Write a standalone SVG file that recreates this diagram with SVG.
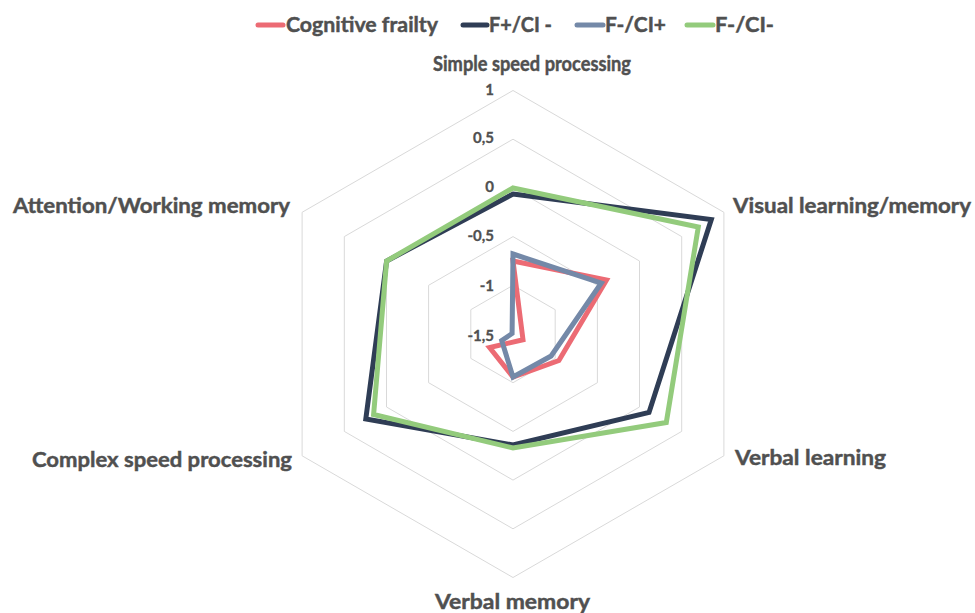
<svg xmlns="http://www.w3.org/2000/svg" width="975" height="613" viewBox="0 0 975 613">
<style>
.bg{fill:#fff}
.grid{fill:none;stroke:#d9d9d9;stroke-width:1}
.ser{fill:none;stroke-width:5;stroke-linejoin:miter;stroke-miterlimit:10}
.leg{stroke-width:5;stroke-linecap:round}
.cat{font-family:Lato,"Open Sans","DejaVu Sans",sans-serif;font-weight:bold;font-size:21px;fill:#505050;stroke:#505050;stroke-width:0.45}
.val{font-family:Lato,"Open Sans","DejaVu Sans",sans-serif;font-weight:bold;font-size:15px;fill:#505050;stroke:#505050;stroke-width:0.3;text-anchor:end}
.red{stroke:#ec6b74}
.navy{stroke:#2f3d55}
.blue{stroke:#7489a8}
.green{stroke:#93cb7c}
</style>
<rect class="bg" x="0" y="0" width="975" height="613"/>
<g id="grid">
<polygon class="grid" points="513,285.3 555.2,309.7 555.2,358.4 513,382.7 470.8,358.4 470.8,309.7"/>
<polygon class="grid" points="513,236.6 597.4,285.3 597.4,382.7 513,431.4 428.6,382.7 428.6,285.3"/>
<polygon class="grid" points="513,187.9 639.5,261 639.5,407 513,480.1 386.5,407 386.5,261"/>
<polygon class="grid" points="513,139.2 681.7,236.6 681.7,431.4 513,528.8 344.3,431.4 344.3,236.6"/>
<polygon class="grid" points="513,90.5 723.9,212.3 723.9,455.8 513,577.5 302.1,455.8 302.1,212.3"/>
</g>
<g id="value-labels">
<text class="val" x="494" y="95">1</text>
<text class="val" x="494" y="143">0,5</text>
<text class="val" x="494" y="192">0</text>
<text class="val" x="494" y="241">-0,5</text>
<text class="val" x="494" y="291">-1</text>
<text class="val" x="494" y="341">-1,5</text>
</g>
<g id="series">
<polygon id="s-cognitive-frailty" class="ser red" points="513,261 606.5,280 558.9,360.5 513,377 489.6,347.5 523,339.8"/>
<polygon id="s-f-plus-ci-minus" class="ser navy" points="513,194 711.3,219.5 649,412.5 513,445 365.8,419 386.6,261"/>
<polygon id="s-f-minus-ci-plus" class="ser blue" points="513,254 601.3,283 551.1,356 513,377 501.7,340.5 512.1,333.5"/>
<polygon id="s-f-minus-ci-minus" class="ser green" points="513,188 698.3,227 666.3,422.5 513,448 373.6,414.5 386.6,261"/>
</g>
<g id="axis-simple-speed"><text class="cat" x="433" y="71" style="font-size:20px" textLength="198" lengthAdjust="spacingAndGlyphs">Simple speed processing</text></g>
<g id="axis-visual"><text class="cat" x="733" y="213" textLength="238" lengthAdjust="spacingAndGlyphs">Visual learning/memory</text></g>
<g id="axis-verbal-learning"><text class="cat" x="735" y="465" textLength="151" lengthAdjust="spacingAndGlyphs">Verbal learning</text></g>
<g id="axis-verbal-memory"><text class="cat" x="435" y="609" textLength="155" lengthAdjust="spacingAndGlyphs">Verbal memory</text></g>
<g id="axis-complex-speed"><text class="cat" x="32" y="467" textLength="260" lengthAdjust="spacingAndGlyphs">Complex speed processing</text></g>
<g id="axis-attention"><text class="cat" x="13" y="213" textLength="277" lengthAdjust="spacingAndGlyphs">Attention/Working memory</text></g>
<g id="legend">
<line class="leg red" x1="258" y1="25" x2="283" y2="25"/>
<text class="cat" x="286" y="32" textLength="152" lengthAdjust="spacingAndGlyphs">Cognitive frailty</text>
<line class="leg navy" x1="463" y1="25" x2="487" y2="25"/>
<text class="cat" x="489" y="32" textLength="63" lengthAdjust="spacingAndGlyphs">F+/CI -</text>
<line class="leg blue" x1="577" y1="25" x2="603" y2="25"/>
<text class="cat" x="605" y="32" textLength="61" lengthAdjust="spacingAndGlyphs">F-/CI+</text>
<line class="leg green" x1="687" y1="25" x2="713" y2="25"/>
<text class="cat" x="715" y="32" textLength="59" lengthAdjust="spacingAndGlyphs">F-/CI-</text>
</g>
</svg>
